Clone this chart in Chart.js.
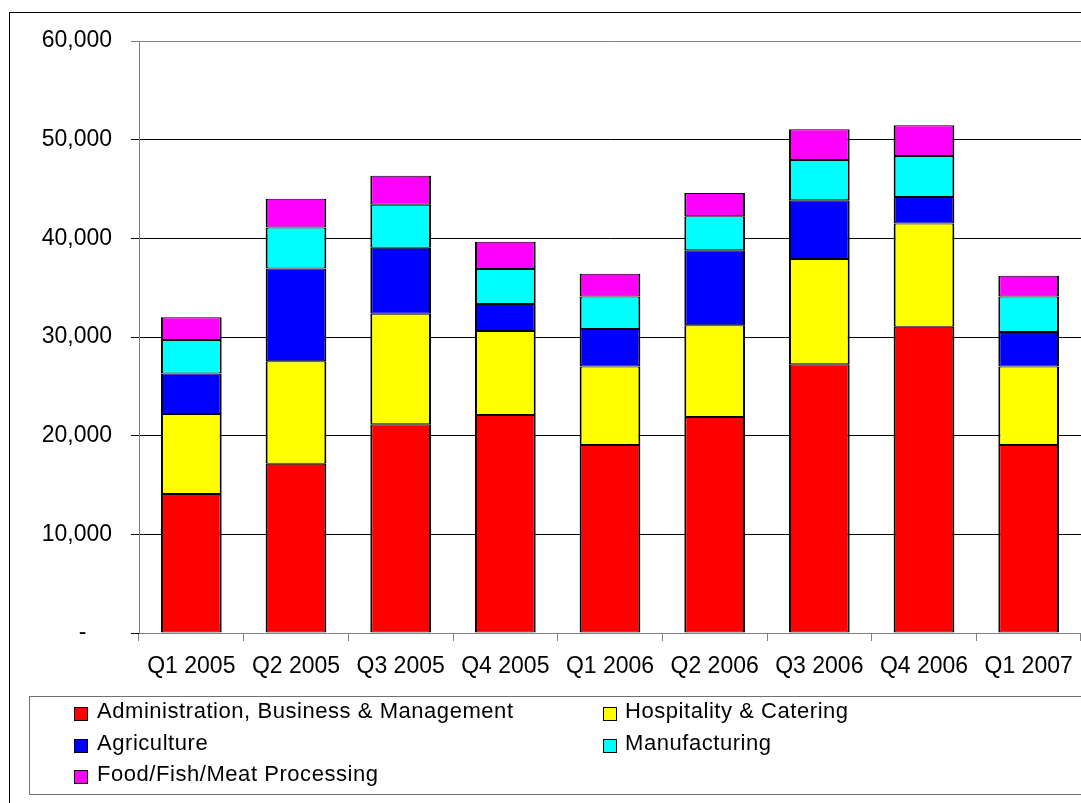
<!DOCTYPE html>
<html>
<head>
<meta charset="utf-8">
<title>Students by sector</title>
<script src="https://cdn.jsdelivr.net/npm/chart.js@4.4.1/dist/chart.umd.min.js"></script>
<style>
  html, body { margin: 0; padding: 0; background: #fff; overflow: hidden; }
  body { width: 1081px; height: 803px; position: relative; font-family: "Liberation Sans", Arial, sans-serif; }
  #frame { position: absolute; left: 9px; top: 12px; width: 1200px; height: 900px; border-left: 1px solid #000; border-top: 1px solid #000; }
  #myChart { position: absolute; left: 0; top: 0; }
  #legend { position: absolute; left: 29px; top: 696px; width: 1200px; height: 97px; border: 1px solid #707070; border-right: none; }
  .item { position: absolute; font-size: 22px; line-height: 22px; letter-spacing: 0.55px; color: #000; white-space: nowrap; }
  .swatch { position: absolute; width: 12px; height: 12px; border: 1px solid #000; }
</style>
</head>
<body>
<div id="frame"></div>
<canvas id="myChart" width="1081" height="803"></canvas>
<div id="legend"></div>
<script>
// quarters on the x axis
const quarters = ['Q1 2005', 'Q2 2005', 'Q3 2005', 'Q4 2005', 'Q1 2006', 'Q2 2006', 'Q3 2006', 'Q4 2006', 'Q1 2007'];
// one array per sector
const admin = [14100, 17150, 21150, 22100, 19050, 21900, 27250, 31050, 19050];
const hospitality = [8100, 10400, 11200, 8500, 7950, 9300, 10650, 10450, 7950];
const agriculture = [4100, 9400, 6700, 2750, 3800, 7600, 5950, 2700, 3500];
const manufacturing = [3400, 4150, 4350, 3550, 3300, 3450, 4100, 4150, 3600];
const foodProcessing = [2300, 2900, 2950, 2750, 2300, 2350, 3100, 3100, 2100];
const sectorNames = ['Administration, Business & Management', 'Hospitality & Catering', 'Agriculture', 'Manufacturing', 'Food/Fish/Meat Processing'];
const yTicks = [0, 10000, 20000, 30000, 40000, 50000, 60000];

const colores = ['#FF0000', '#FFFF00', '#0000FF', '#00FFFF', '#FF00FF'];
const series = [admin, hospitality, agriculture, manufacturing, foodProcessing];

const datasets = series.map((valores, i) => ({
    label: sectorNames[i],
    data: valores,
    backgroundColor: colores[i],
    borderColor: '#000',
    borderWidth: { top: 1, bottom: 1, left: 2, right: 2 },
    borderSkipped: false,
    categoryPercentage: 1,
    barPercentage: 0.58
}));

const font = { family: '"Liberation Sans", Arial, sans-serif', size: 23 };

const config = {
    type: 'bar',
    data: { labels: quarters, datasets: datasets },
    options: {
        responsive: false,
        animation: false,
        layout: { padding: { top: 41, right: 0, bottom: 110, left: 0 } },
        plugins: { legend: { display: false }, tooltip: { enabled: false } },
        scales: {
            x: {
                stacked: true,
                grid: { offset: true, drawOnChartArea: false, drawTicks: true, tickLength: 8, color: '#808080' },
                border: { color: '#808080', width: 1 },
                ticks: { color: '#000', font: font, padding: 12, maxRotation: 0, autoSkip: false },
                afterFit: scale => {
                    scale.height = 60;
                    scale.paddingLeft = 0;
                    scale.paddingRight = 0;
                }
            },
            y: {
                stacked: true,
                min: 0,
                max: 60000,
                afterBuildTicks: scale => { scale.ticks = yTicks.map(v => ({ value: v })); },
                grid: {
                    color: ctx => (ctx.tick && ctx.tick.value === 60000) ? '#808080' : '#000',
                    tickLength: 8
                },
                border: { color: '#808080', width: 1 },
                ticks: {
                    color: '#000',
                    font: font,
                    padding: 19,
                    callback: v => v === 0 ? '-\u2007\u2007' : v.toLocaleString('en-US')
                },
                afterFit: scale => { scale.width = 139; }
            }
        }
    }
};

const myChart = new Chart(document.getElementById('myChart'), config);

// legend in two columns like the original
const legend = document.getElementById('legend');
const cols = [{ box: 44, text: 67 }, { box: 573, text: 595 }];
const rows = [3, 35, 66];
sectorNames.forEach((nombre, i) => {
    const c = cols[i % 2];
    const r = rows[Math.floor(i / 2)];
    const sw = document.createElement('div');
    sw.className = 'swatch';
    sw.style.left = c.box + 'px';
    sw.style.top = (r + 7) + 'px';
    sw.style.background = colores[i];
    legend.appendChild(sw);
    const t = document.createElement('div');
    t.className = 'item';
    t.style.left = c.text + 'px';
    t.style.top = r + 'px';
    t.textContent = nombre;
    legend.appendChild(t);
});
</script>
</body>
</html>
